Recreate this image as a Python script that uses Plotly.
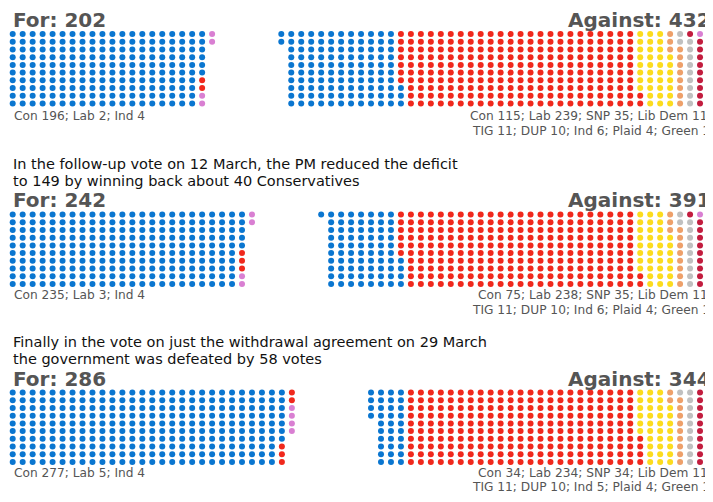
import plotly.graph_objects as go

# Brexit meaningful votes, one dot per MP

for_parties = ["Con", "Lab", "Ind"]
against_parties = ["Con", "Lab", "SNP", "Lib Dem", "TIG", "DUP", "Ind", "Plaid", "Green"]

vote1_for = [196, 2, 4]
vote1_against = [115, 239, 35, 11, 11, 10, 6, 4, 1]

vote2_for = [235, 3, 4]
vote2_against = [75, 238, 35, 11, 11, 10, 6, 4, 1]

vote3_for = [277, 5, 4]
vote3_against = [34, 234, 34, 11, 11, 10, 5, 4, 1]

note2 = ["In the follow-up vote on 12 March, the PM reduced the deficit",
         "to 149 by winning back about 40 Conservatives"]
note3 = ["Finally in the vote on just the withdrawal agreement on 29 March",
         "the government was defeated by 58 votes"]

party_colours = {
	"Con": "#0a76d0",
	"Lab": "#f0281c",
	"SNP": "#fcdc1e",
	"Lib Dem": "#eea06a",
	"TIG": "#c0c0c0",
	"DUP": "#c21c3e",
	"Ind": "#d97fd2",
	"Plaid": "#17a07a",
	"Green": "#62c420",
}

# the page body has an 8px margin, so the figure is 705x486
WIDTH, HEIGHT = 705, 486
ROWS = 10
COL_GAP = 9.97
ROW_GAP = 7.7
LEFT_X = 4.7
RIGHT_X = 702
FONT = "DejaVu Sans"

blocks = [
	dict(for_=vote1_for, against=vote1_against, note=None,
	     top=26.1, title_y=11.9, text_y=108.4, note_y=None),
	dict(for_=vote2_for, against=vote2_against, note=note2,
	     top=206.6, title_y=192.2, text_y=287.3, note_y=155.6),
	dict(for_=vote3_for, against=vote3_against, note=note3,
	     top=384.6, title_y=370.5, text_y=464.5, note_y=333.5),
]


def add_dots(fig, parties, counts, top, from_right):
	seats = []
	for party, n in zip(parties, counts):
		seats += [party] * n
	if from_right:
		seats = seats[::-1]

	points = {p: ([], []) for p in parties}
	for k, party in enumerate(seats):
		col, row = divmod(k, ROWS)
		x = RIGHT_X - col * COL_GAP if from_right else LEFT_X + col * COL_GAP
		points[party][0].append(x)
		points[party][1].append(top + row * ROW_GAP)

	for party in parties:
		xs, ys = points[party]
		fig.add_trace(
			go.Scatter(
				x=xs,
				y=ys,
				mode='markers',
				name=party,
				marker=dict(size=6, color=party_colours[party]),
				hoverinfo='name',
				showlegend=False
			)
		)


def label(text, x, y, anchor, size, colour):
	return dict(
		x=x, y=y, xref='x', yref='y',
		text=text, showarrow=False,
		xanchor=anchor, yanchor='middle',
		borderpad=0,
		font=dict(family=FONT, size=size, color=colour)
	)


fig = go.Figure()
annotations = []

for b in blocks:
	add_dots(fig, for_parties, b['for_'], b['top'], False)
	add_dots(fig, against_parties, b['against'], b['top'], True)

	annotations.append(label("<b>For: %d</b>" % sum(b['for_']), LEFT_X - 1, b['title_y'], 'left', 20, "#555555"))
	annotations.append(label("<b>Against: %d</b>" % sum(b['against']), RIGHT_X + 1.5, b['title_y'], 'right', 20, "#555555"))

	for_text = "; ".join("%s %d" % (p, n) for p, n in zip(for_parties, b['for_']))
	annotations.append(label(for_text, LEFT_X, b['text_y'], 'left', 12.2, "#555555"))

	parts = ["%s %d" % (p, n) for p, n in zip(against_parties, b['against'])]
	annotations.append(label("; ".join(parts[:4]) + ";", RIGHT_X + 2.5, b['text_y'], 'right', 12.2, "#555555"))
	annotations.append(label("; ".join(parts[4:]), RIGHT_X + 1, b['text_y'] + 14.2, 'right', 12.2, "#555555"))

	if b['note']:
		for i, line in enumerate(b['note']):
			annotations.append(label(line, LEFT_X - 1, b['note_y'] + i * 17, 'left', 14.5, "#111111"))

fig.update_layout(
	width=WIDTH,
	height=HEIGHT,
	margin=dict(l=0, r=0, t=0, b=0),
	paper_bgcolor='white',
	plot_bgcolor='white',
	annotations=annotations
)

fig.update_xaxes(range=[0, WIDTH], visible=False, fixedrange=True)
fig.update_yaxes(range=[HEIGHT, 0], visible=False, fixedrange=True)

fig.write_html("out.html")
